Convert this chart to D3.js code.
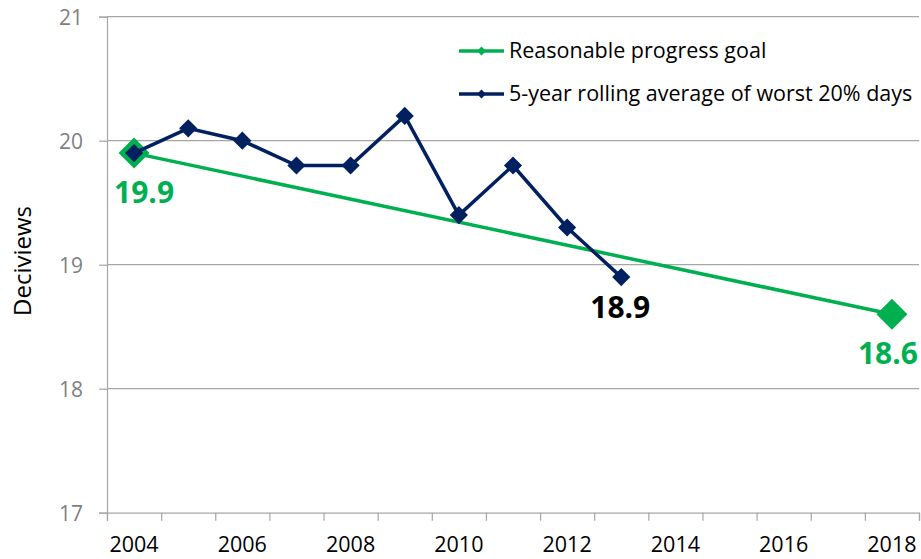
<!DOCTYPE html>
<html>
<head>
<meta charset="utf-8">
<script src="https://cdn.jsdelivr.net/npm/d3@7"></script>
<style>
  body { margin: 0; background: #fff; }
  svg { display: block; font-family: "Open Sans", "Liberation Sans", sans-serif; }
</style>
</head>
<body>
<div class="chart"></div>
<script>
const years = [2004, 2005, 2006, 2007, 2008, 2009, 2010, 2011, 2012, 2013, 2014, 2015, 2016, 2017, 2018]
const yTicks = [17, 18, 19, 20, 21]
const goalYears = [2004, 2018]
const goalValues = [19.9, 18.6]
const avgYears = [2004, 2005, 2006, 2007, 2008, 2009, 2010, 2011, 2012, 2013]
const avgValues = [19.9, 20.1, 20.0, 19.8, 19.8, 20.2, 19.4, 19.8, 19.3, 18.9]
const seriesNames = ['Reasonable progress goal', '5-year rolling average of worst 20% days']

const green = '#00b050'
const navy = '#002060'
const grid = '#a6a6a6'

const width = 921
const height = 559
const plot = { left: 107, right: 919, top: 16.7, bottom: 512.7 }

const svg = d3.select('.chart')
  .append('svg')
  .attr('width', width)
  .attr('height', height)

// category scale, Excel style: points in the middle of each band
const xScale = d3.scaleBand()
  .domain(years)
  .range([plot.left, plot.right])
const xPos = year => xScale(year) + xScale.bandwidth() / 2

// boundaries for the tick marks
const xEdges = d3.scaleLinear()
  .domain([years[0], years[years.length - 1] + 1])
  .range([plot.left, plot.right])

const yScale = d3.scaleLinear()
  .domain([17, 21])
  .range([plot.bottom, plot.top])

// gridlines
svg.append('g')
  .selectAll('line')
  .data(yTicks.filter(t => t > 17))
  .enter()
  .append('line')
  .attr('x1', plot.left)
  .attr('x2', plot.right)
  .attr('y1', d => yScale(d))
  .attr('y2', d => yScale(d))
  .attr('stroke', grid)
  .attr('stroke-width', 1.2)

// y axis
const yAxis = d3.axisLeft(yScale)
  .tickValues(yTicks)
  .tickSize(8)
  .tickPadding(16)
  .tickFormat(d3.format('d'))
const gy = svg.append('g')
  .attr('transform', `translate(${plot.left},0)`)
  .call(yAxis)
gy.select('.domain').attr('stroke', grid).attr('stroke-width', 1.2)
gy.selectAll('.tick line').attr('stroke', grid).attr('stroke-width', 1.2)
gy.selectAll('.tick text')
  .attr('fill', '#7f7f7f')
  .style('font-size', '21px')
  .style('font-family', '"Open Sans", sans-serif')
  .attr('dy', '0.36em')

// x axis: ticks on the band edges
const xAxis = d3.axisBottom(xEdges)
  .tickValues(d3.range(years[0], years[years.length - 1] + 2))
  .tickSize(8)
  .tickFormat('')
const gx = svg.append('g')
  .attr('transform', `translate(0,${plot.bottom})`)
  .call(xAxis)
gx.select('.domain').attr('stroke', grid).attr('stroke-width', 1.2)
gx.selectAll('.tick line').attr('stroke', grid).attr('stroke-width', 1.2)

svg.append('g')
  .selectAll('text')
  .data(years.filter(y => y % 2 === 0))
  .enter()
  .append('text')
  .attr('x', d => xPos(d))
  .attr('y', 552)
  .attr('text-anchor', 'middle')
  .attr('fill', '#000')
  .style('font-size', '21.5px')
  .text(d => d)

// y title
svg.append('text')
  .attr('transform', 'translate(31,261) rotate(-90)')
  .attr('text-anchor', 'middle')
  .style('font-size', '24px')
  .attr('fill', '#000')
  .text('Deciviews')

const line = d3.line()
  .x(d => xPos(d[0]))
  .y(d => yScale(d[1]))

const diamond = d3.symbol().type(d3.symbolSquare)

// goal series
const goal = goalYears.map((y, i) => [y, goalValues[i]])
svg.append('path')
  .datum(goal)
  .attr('d', line)
  .attr('fill', 'none')
  .attr('stroke', green)
  .attr('stroke-width', 3.5)
svg.append('g')
  .selectAll('path')
  .data(goal)
  .enter()
  .append('path')
  .attr('d', diamond.size(480))
  .attr('transform', d => `translate(${xPos(d[0])},${yScale(d[1])}) rotate(45)`)
  .attr('fill', green)

// rolling average series
const avg = avgYears.map((y, i) => [y, avgValues[i]])
svg.append('path')
  .datum(avg)
  .attr('d', line)
  .attr('fill', 'none')
  .attr('stroke', navy)
  .attr('stroke-width', 3.5)
svg.append('g')
  .selectAll('path')
  .data(avg)
  .enter()
  .append('path')
  .attr('d', diamond.size(165))
  .attr('transform', d => `translate(${xPos(d[0])},${yScale(d[1])}) rotate(45)`)
  .attr('fill', navy)

// data labels
const labels = [
  { year: 2004, value: 19.9, color: green, dx: 10, dy: 50 },
  { year: 2013, value: 18.9, color: '#000', dx: -1, dy: 41 },
  { year: 2018, value: 18.6, color: green, dx: -4, dy: 50 }
]
svg.append('g')
  .selectAll('text')
  .data(labels)
  .enter()
  .append('text')
  .attr('x', d => xPos(d.year) + d.dx)
  .attr('y', d => yScale(d.value) + d.dy)
  .attr('text-anchor', 'middle')
  .attr('fill', d => d.color)
  .style('font-size', '30px')
  .style('font-weight', 'bold')
  .text(d => d3.format('.1f')(d.value))

// legend
const legend = svg.append('g')
  .attr('transform', 'translate(459,51)')
const legendItems = legend.selectAll('g')
  .data(seriesNames)
  .enter()
  .append('g')
  .attr('transform', (d, i) => `translate(0,${i * 43})`)
legendItems.append('line')
  .attr('x1', 0)
  .attr('x2', 45)
  .attr('stroke', (d, i) => i === 0 ? green : navy)
  .attr('stroke-width', 3.5)
legendItems.append('path')
  .attr('d', diamond.size(40))
  .attr('transform', 'translate(22.5,0) rotate(45)')
  .attr('fill', (d, i) => i === 0 ? green : navy)
legendItems.append('text')
  .attr('x', 50)
  .attr('y', 7)
  .attr('fill', '#000')
  .style('font-size', '21.5px')
  .text(d => d)
</script>
</body>
</html>
